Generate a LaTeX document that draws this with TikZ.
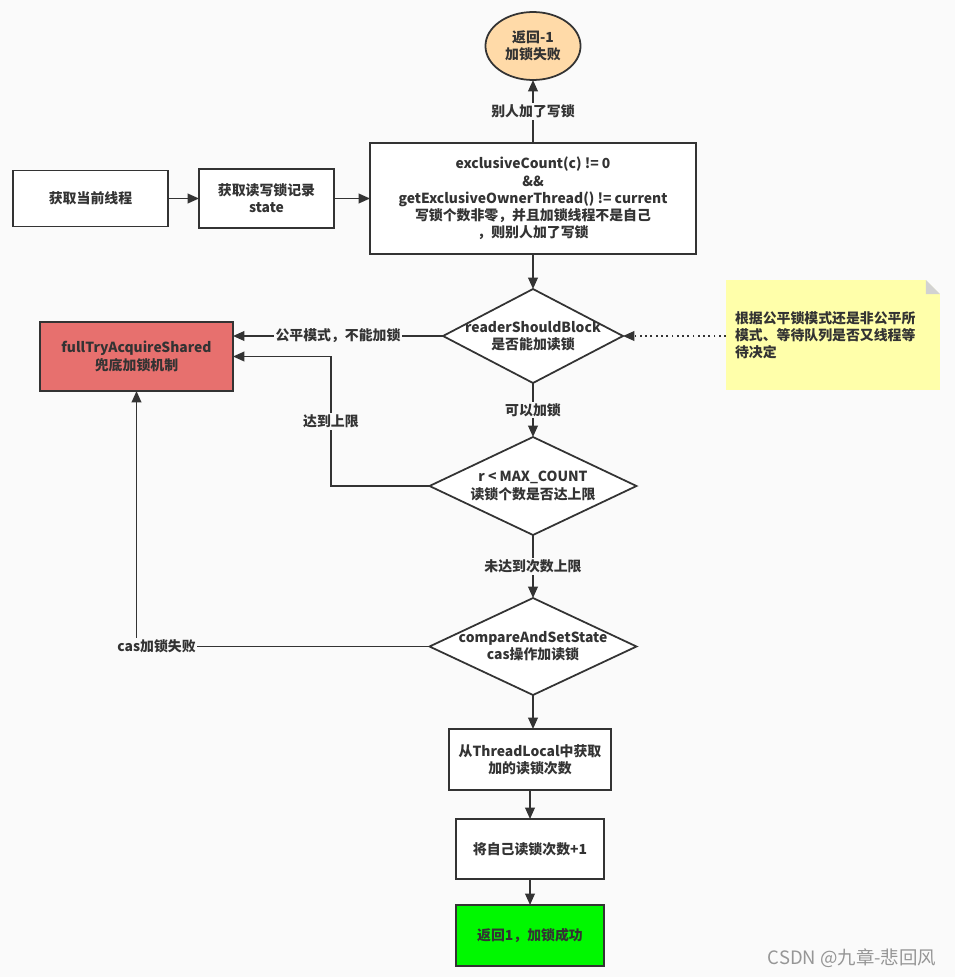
\documentclass[tikz,border=0pt]{standalone}
\usepackage{fontspec}
\setmainfont{Noto Sans CJK SC}
\usetikzlibrary{arrows.meta,shapes.geometric,positioning,calc}
\definecolor{linecol}{RGB}{51,51,51}
\definecolor{bgcol}{RGB}{250,250,250}
\definecolor{failcol}{RGB}{255,218,168}
\definecolor{fullcol}{RGB}{231,112,110}
\definecolor{okcol}{RGB}{0,248,0}
\definecolor{notecol}{RGB}{255,255,170}
\definecolor{foldcol}{RGB}{210,210,210}
\definecolor{markcol}{RGB}{150,150,150}
\newcommand{\flowfont}{\fontsize{7.9}{9.8}\selectfont\bfseries}
\tikzset{
  % process box
  pbox/.style={rectangle, draw=linecol, line width=1pt, fill=#1, outer sep=0pt,
               align=center, font=\flowfont, text=linecol},
  pbox/.default={white},
  % decision diamond, text set as centre label
  dbox/.style={diamond, draw=linecol, line width=1pt, fill=white, outer sep=0pt, inner sep=0pt},
  dtext/.style={align=center, font=\flowfont, text=linecol},
  % flow arrow
  flowarrow/.style={-{Triangle[length=6.5pt,width=5.5pt]}, line width=1pt, draw=linecol},
  % arrow label
  elabel/.style={fill=bgcol, inner sep=1pt, font=\flowfont, text=linecol},
  % comment note
  notebox/.style={rectangle, fill=notecol, outer sep=0pt, inner xsep=0.18cm,
                  text width=3.92cm, align=left, font=\flowfont, text=linecol},
}

\begin{document}
\begin{tikzpicture}[x=0.02cm, y=-0.02cm]
  \fill[bgcol] (0,0) rectangle (955,977);
  \useasboundingbox (0,0) rectangle (955,977);

  % top row
  \node[ellipse, draw=linecol, line width=1pt, fill=failcol, outer sep=0pt,
        minimum width=1.84cm, minimum height=1.36cm, align=center, font=\flowfont, text=linecol]
    (endfail) at (533,46) {返回-1\\加锁失败};
  \node[pbox, minimum width=3.1cm, minimum height=1.12cm] (getthread) at (90.5,198.5) {获取当前线程};
  \node[pbox, minimum width=2.7cm, minimum height=1.18cm] (getstate) at (266.5,198.5) {获取读写锁记录\\state};
  \node[pbox, minimum width=6.52cm, minimum height=2.22cm] (excl) at (533,198.5)
    {exclusiveCount(c) != 0\\\&\&\\getExclusiveOwnerThread() != current\\写锁个数非零，并且加锁线程不是自己\\，则别人加了写锁};

  % decisions
  \node[dbox, minimum width=3.6cm, minimum height=1.88cm,
        label={[dtext]center:readerShouldBlock\\是否能加读锁}] (dblock) at (533,336) {};
  \node[dbox, minimum width=4.14cm, minimum height=1.96cm,
        label={[dtext]center:r < MAX\_COUNT\\读锁个数是否达上限}] (dmax) at (533,486) {};
  \node[dbox, minimum width=4.14cm, minimum height=1.94cm,
        label={[dtext]center:compareAndSetState\\cas操作加读锁}] (dcas) at (533,646.5) {};

  % fallback and note
  \node[pbox=fullcol, minimum width=3.86cm, minimum height=1.38cm] (fulltry) at (136.5,356.5)
    {fullTryAcquireShared\\兜底加锁机制};
  \node[notebox, minimum width=4.28cm, minimum height=2.2cm] (note) at (833,335)
    {根据公平锁模式还是非公平所\\模式、等待队列是否又线程等\\待决定};
  \fill[bgcol] ($(note.north east)+(-14,0)$) -- (note.north east) -- ($(note.north east)+(0,14)$) -- cycle;
  \fill[foldcol] ($(note.north east)+(-14,0)$) -- ($(note.north east)+(0,14)$) -- ($(note.north east)+(-14,14)$) -- cycle;

  % bottom column
  \node[pbox, minimum width=3.24cm, minimum height=1.22cm] (tlocal) at (530,759.5) {从ThreadLocal中获取\\加的读锁次数};
  \node[pbox, minimum width=2.96cm, minimum height=1.2cm] (incr) at (530,849) {将自己读锁次数+1};
  \node[pbox=okcol, minimum width=2.96cm, minimum height=1.22cm] (okbox) at (530,935.5) {返回1，加锁成功};

  % connectors
  \draw[flowarrow] (getthread) -- (getstate);
  \draw[flowarrow] (getstate) -- (excl);
  \draw[flowarrow] (excl) -- node[elabel]{别人加了写锁} (endfail);
  \draw[flowarrow] (excl) -- (dblock);
  \draw[flowarrow] (dblock.west) -- node[elabel]{公平模式，不能加锁} (dblock.west -| fulltry.east);
  \draw[flowarrow, dotted] (note.west |- dblock.east) -- (dblock.east);
  \draw[flowarrow] (dblock) -- node[elabel]{可以加锁} (dmax);
  \draw[flowarrow] (dmax.west) -| node[elabel, pos=0.75]{达到上限} ($(fulltry.east)+(98,0)$) -- (fulltry.east);
  \draw[flowarrow] (dmax) -- node[elabel]{未达到次数上限} (dcas);
  \draw[flowarrow] (dcas.west) -| node[elabel, pos=0.5, xshift=0.4cm]{cas加锁失败} (fulltry.south);
  \draw[flowarrow] (dcas.south) -- (dcas.south |- tlocal.north);
  \draw[flowarrow] (tlocal) -- (incr);
  \draw[flowarrow] (incr) -- (okbox);

  % watermark
  \node[font=\fontsize{10.5}{12}\selectfont, text=markcol] (mark) at (852,958) {CSDN @九章-悲回风};
\end{tikzpicture}
\end{document}
